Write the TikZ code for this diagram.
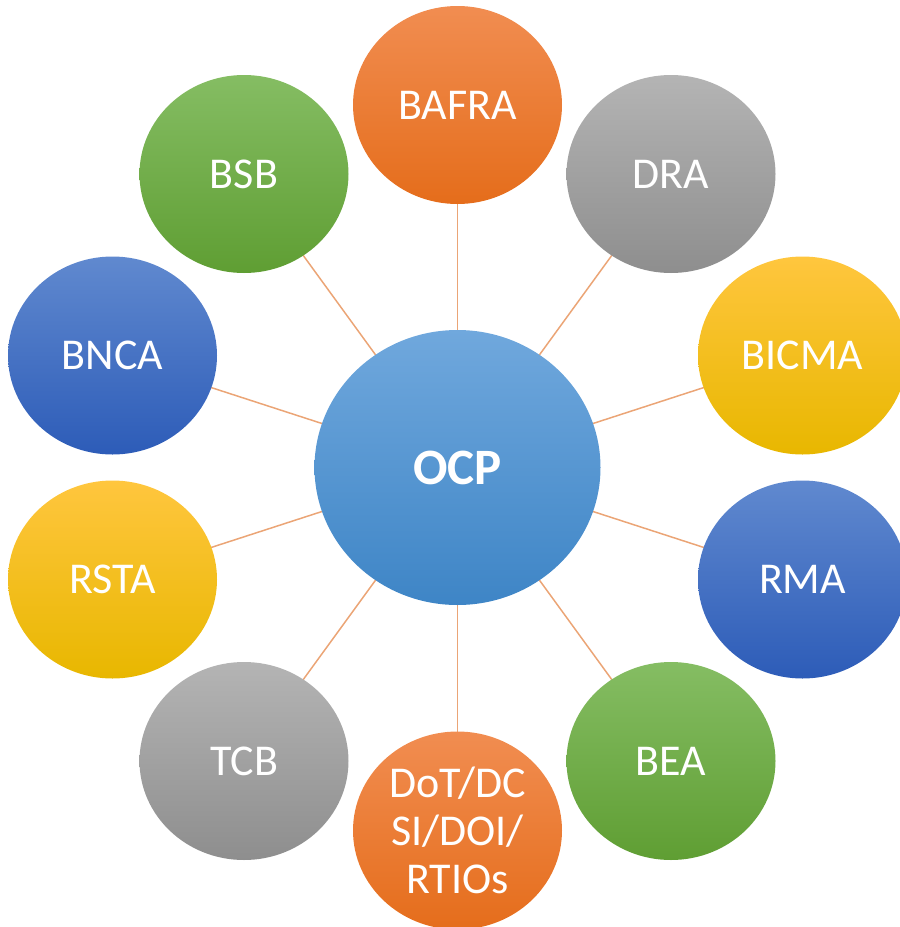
\documentclass[tikz,border=0pt]{standalone}
\usepackage{fontspec}
\setmainfont{Carlito}
\usetikzlibrary{shapes.geometric,backgrounds}

% fill ramps for the bubbles (top, bottom)
\definecolor{orT}{HTML}{F18D51}\definecolor{orB}{HTML}{E56D1B}
\definecolor{grT}{HTML}{B4B4B4}\definecolor{grB}{HTML}{8E8E8E}
\definecolor{yeT}{HTML}{FFC63E}\definecolor{yeB}{HTML}{E8B700}
\definecolor{bdT}{HTML}{6089CF}\definecolor{bdB}{HTML}{2D5CB8}
\definecolor{gnT}{HTML}{85BD63}\definecolor{gnB}{HTML}{5F9E33}
\definecolor{lbT}{HTML}{70A8DD}\definecolor{lbB}{HTML}{3E85C6}
\definecolor{spoke}{HTML}{EBA576}

\tikzset{
  bubble/.style={ellipse, inner sep=0pt, minimum width=209pt, minimum height=198pt,
    text=white, align=center, font=\fontsize{44}{48}\selectfont},
  hub/.style={ellipse, inner sep=0pt, minimum width=286pt, minimum height=275pt,
    text=white, font=\fontsize{51}{56}\selectfont\bfseries,
    top color=lbT, bottom color=lbB},
  orange/.style={top color=orT, bottom color=orB},
  grey/.style={top color=grT, bottom color=grB},
  yellow/.style={top color=yeT, bottom color=yeB},
  darkblue/.style={top color=bdT, bottom color=bdB},
  green/.style={top color=gnT, bottom color=gnB},
  link/.style={draw=spoke, line width=1.5pt}
}

\begin{document}
\begin{tikzpicture}[x=1pt,y=-1pt]
\useasboundingbox (0,0) rectangle (900,927);
\clip (0,0) rectangle (900,927);

\node[hub] (ocp) at (457.5,467.5) {OCP};
\node[bubble, orange]   (bafra) at (457.5,105)   {BAFRA};
\node[bubble, grey]     (dra)   at (671,174)     {DRA};
\node[bubble, yellow]   (bicma) at (802.5,355.5) {BICMA};
\node[bubble, darkblue] (rma)   at (802.5,579.5) {RMA};
\node[bubble, green]    (bea)   at (671,761)     {BEA};
\node[bubble, orange]   (dot)   at (457.5,830.5) {DoT/DC\\SI/DOI/\\RTIOs};
\node[bubble, grey]     (tcb)   at (244,761)     {TCB};
\node[bubble, yellow]   (rsta)  at (112.5,579.5) {RSTA};
\node[bubble, darkblue] (bnca)  at (112.5,355.5) {BNCA};
\node[bubble, green]    (bsb)   at (244,174)     {BSB};

% spokes from the hub to every bubble, kept behind the fills
\begin{scope}[on background layer]
  \foreach \n in {bafra,dra,bicma,rma,bea,dot,tcb,rsta,bnca,bsb}
    \draw[link] (ocp.center) -- (\n.center);
\end{scope}
\end{tikzpicture}
\end{document}
